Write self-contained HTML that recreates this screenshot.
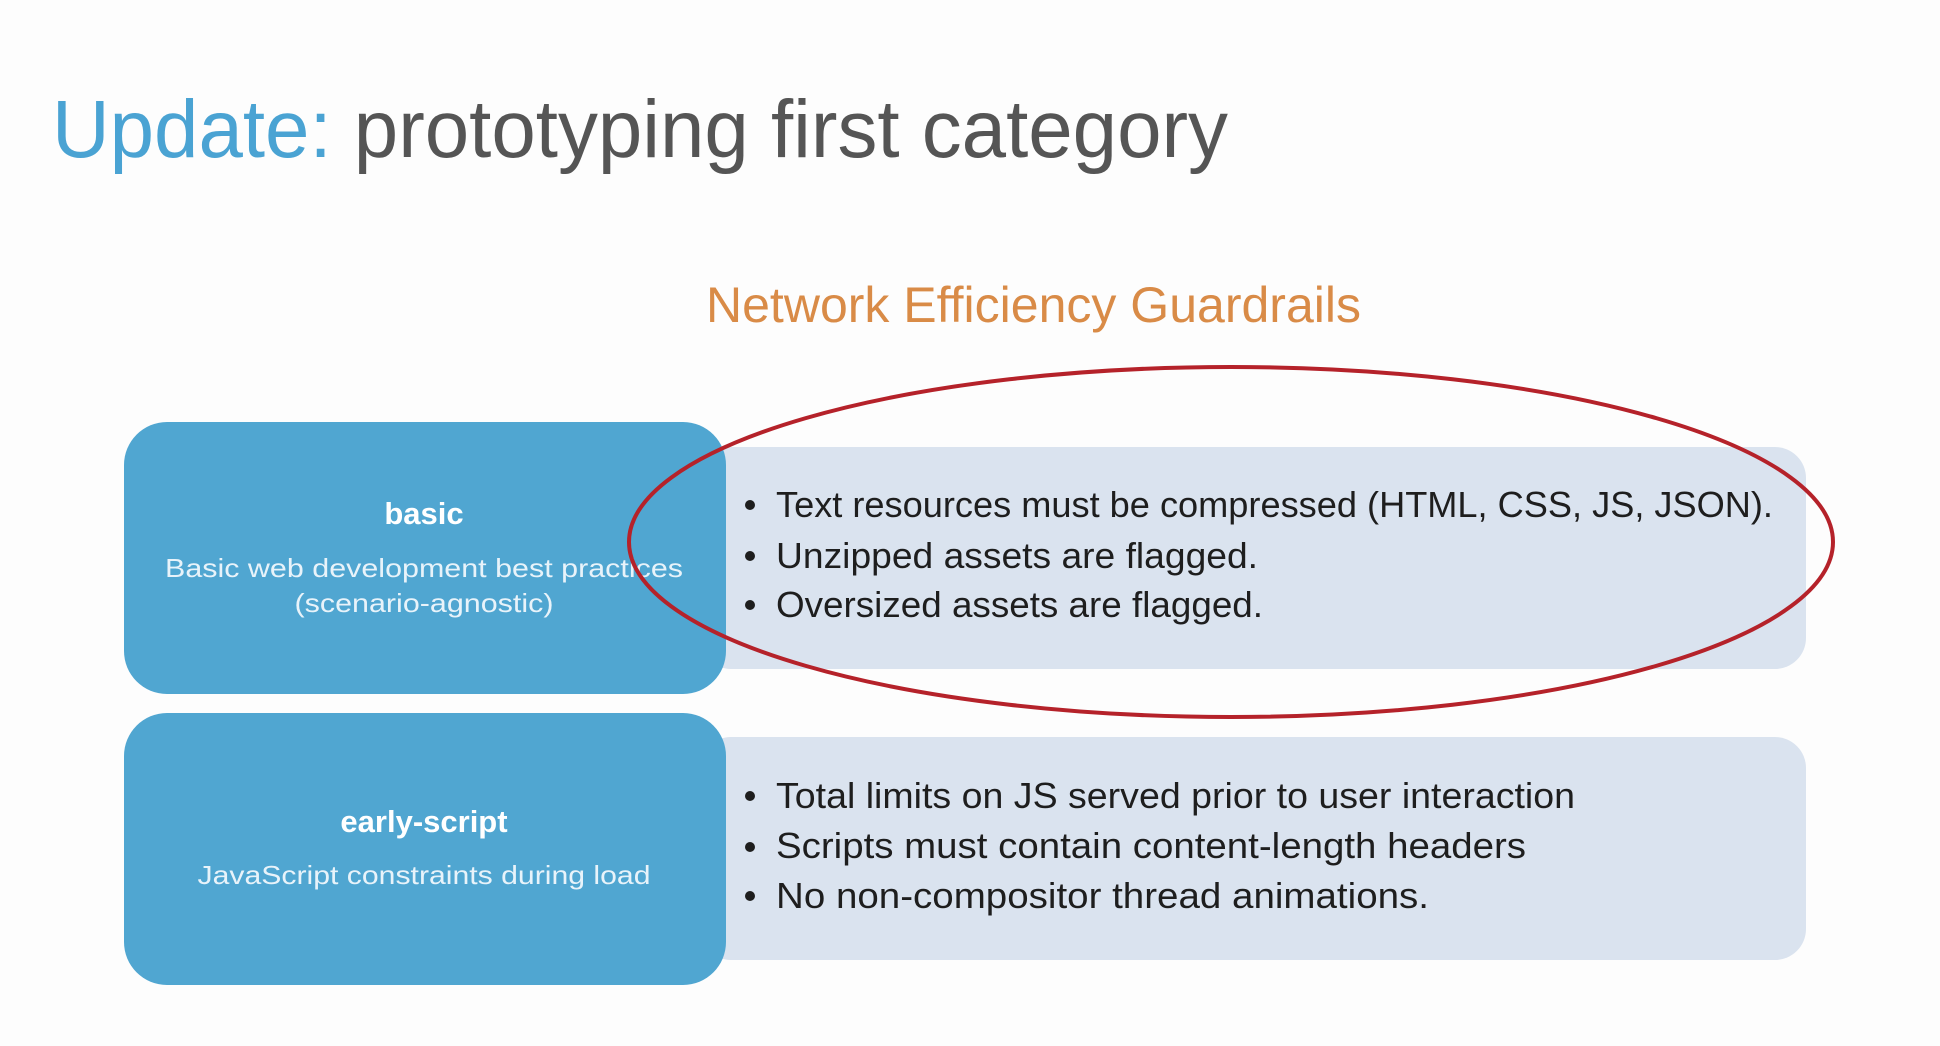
<!DOCTYPE html>
<html><head><meta charset="utf-8"><style>
html,body{margin:0;padding:0;background:#fff;width:1940px;height:1046px;overflow:hidden}
svg{display:block}
text{font-family:"Liberation Sans",sans-serif}
</style></head><body>
<svg width="1940" height="1046" viewBox="0 0 1940 1046" xmlns="http://www.w3.org/2000/svg">
<rect width="1940" height="1046" fill="#fdfdfd"/>
<text x="52" y="157" font-size="82" textLength="1176" lengthAdjust="spacingAndGlyphs"><tspan fill="#4aa3d3">Update:</tspan><tspan fill="#555555"> prototyping first category</tspan></text>
<text x="706" y="322" font-size="50" fill="#d98b47" textLength="655" lengthAdjust="spacingAndGlyphs">Network Efficiency Guardrails</text>

<rect x="700" y="447" width="1106" height="222" rx="31" fill="#dae3ef"/>
<rect x="700" y="737" width="1106" height="223" rx="31" fill="#dae3ef"/>
<rect x="124" y="422" width="602" height="272" rx="43" fill="#50a6d1"/>
<rect x="124" y="713" width="602" height="272" rx="43" fill="#50a6d1"/>

<g fill="#fff" text-anchor="middle">
<text x="424" y="524" font-size="31" font-weight="bold">basic</text>
<text x="424" y="577" font-size="26" textLength="518" lengthAdjust="spacingAndGlyphs" fill="#e8f3fa">Basic web development best practices</text>
<text x="424" y="612" font-size="26" textLength="259" lengthAdjust="spacingAndGlyphs" fill="#e8f3fa">(scenario-agnostic)</text>
<text x="424" y="832" font-size="31" font-weight="bold">early-script</text>
<text x="424" y="884" font-size="26" textLength="453" lengthAdjust="spacingAndGlyphs" fill="#e8f3fa">JavaScript constraints during load</text>
</g>

<g fill="#1e1e1e" font-size="36">
<circle cx="750" cy="505" r="5"/><circle cx="750" cy="556" r="5"/><circle cx="750" cy="605" r="5"/>
<text x="776" y="517" textLength="997" lengthAdjust="spacingAndGlyphs">Text resources must be compressed (HTML, CSS, JS, JSON).</text>
<text x="776" y="568" textLength="482" lengthAdjust="spacingAndGlyphs">Unzipped assets are flagged.</text>
<text x="776" y="617" textLength="487" lengthAdjust="spacingAndGlyphs">Oversized assets are flagged.</text>
<circle cx="750" cy="796" r="5"/><circle cx="750" cy="847" r="5"/><circle cx="750" cy="896" r="5"/>
<text x="776" y="808" textLength="799" lengthAdjust="spacingAndGlyphs">Total limits on JS served prior to user interaction</text>
<text x="776" y="858" textLength="750" lengthAdjust="spacingAndGlyphs">Scripts must contain content-length headers</text>
<text x="776" y="908" textLength="653" lengthAdjust="spacingAndGlyphs">No non-compositor thread animations.</text>
</g>

<ellipse cx="1231" cy="542" rx="602" ry="175" fill="none" stroke="#b5222a" stroke-width="4"/>
</svg>
</body></html>
